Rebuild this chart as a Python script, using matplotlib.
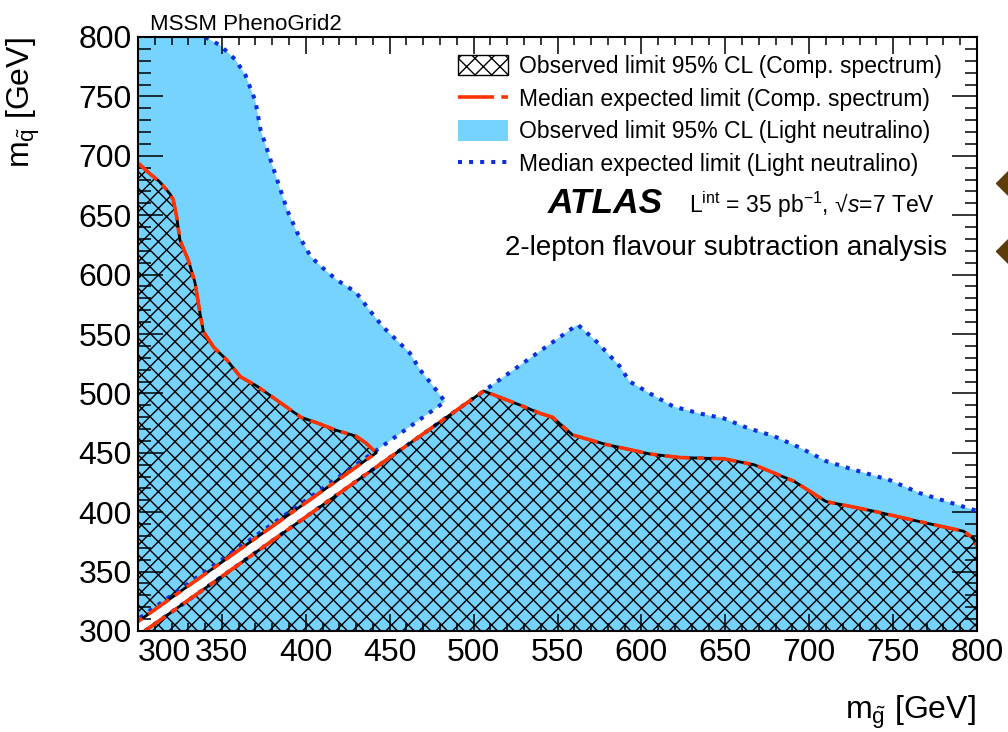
import numpy as np
import matplotlib
matplotlib.use("Agg")
import matplotlib.pyplot as plt
from matplotlib.ticker import MultipleLocator
from matplotlib.patches import Patch
from matplotlib.lines import Line2D

plt.rcParams['font.family'] = ['Liberation Sans', 'DejaVu Sans']
plt.rcParams['mathtext.fontset'] = 'custom'
plt.rcParams['mathtext.rm'] = 'Liberation Sans'
plt.rcParams['mathtext.it'] = 'Liberation Sans:italic'
plt.rcParams['mathtext.bf'] = 'Liberation Sans:bold'
plt.rcParams['hatch.linewidth'] = 1.0

# --- contours (GeV) ---
# upper-left region (squark heavier than gluino)
ul_obs_x = [300, 307, 313, 319, 321, 323, 325, 330, 334, 337, 339, 345, 353, 361, 371, 383, 397, 407, 418, 430, 436, 442]
ul_obs_y = [694, 685, 678, 668, 663, 649, 629, 612, 593, 567, 552, 539, 528, 514, 506, 494, 480, 475, 469, 464, 458, 450]
ul_ln_x = [340, 349, 358, 364, 370, 373, 377, 381, 385, 389, 395, 403, 409, 418, 430, 438, 446, 454, 462, 468, 476, 483]
ul_ln_y = [800, 793, 781, 768, 746, 722, 705, 688, 671, 654, 635, 615, 607, 596, 585, 570, 556, 545, 534, 520, 506, 493]

# lower-right region (gluino heavier than squark)
lr_obs_x = [506, 528, 540, 547, 559, 579, 605, 623, 649, 667, 691, 710, 738, 766, 792, 798, 800]
lr_obs_y = [502, 490, 483, 480, 465, 457, 449, 446, 445, 440, 426, 409, 401, 392, 384, 378, 371]
lr_ln_x = [562, 573, 579, 587, 593, 605, 619, 635, 649, 663, 679, 695, 710, 726, 748, 766, 782, 798, 800]
lr_ln_y = [558, 544, 535, 523, 510, 500, 489, 483, 479, 471, 464, 454, 443, 436, 427, 416, 409, 402, 401]

# where the contours meet the mass diagonal
diag_ul_ln = 310   # y at x=300
diag_ul_obs = 308  # y at x=300
diag_lr = 304      # x at y=300

legend_labels = [
    "Observed limit 95% CL (Comp. spectrum)",
    "Median expected limit (Comp. spectrum)",
    "Observed limit 95% CL (Light neutralino)",
    "Median expected limit (Light neutralino)",
]

LIGHT = '#75d3fd'
RED = '#ff3300'
BLUE = '#0f2fdc'
RED_DASH = (0, (7, 2, 2, 2))
BLUE_DOT = (0, (1, 1.75))

fig = plt.figure(figsize=(10.08, 7.32), dpi=100)
ax = fig.add_axes([138 / 1008, 101 / 732, 839 / 1008, 594 / 732])

# light neutralino observed regions
ax.fill([300, 300] + ul_ln_x, [diag_ul_ln, 800] + ul_ln_y, color=LIGHT, lw=0, zorder=1)
ax.fill([diag_lr, 562] + lr_ln_x[1:] + [800], [300, 558] + lr_ln_y[1:] + [300],
        color=LIGHT, lw=0, zorder=1)

# compressed spectrum observed regions (hatched)
ax.fill([300, 300] + ul_obs_x, [diag_ul_obs, 694] + ul_obs_y, facecolor=LIGHT,
        edgecolor='black', hatch='xx', lw=0, zorder=1.1)
ax.fill([diag_lr] + lr_obs_x + [800], [300] + lr_obs_y + [300], facecolor=LIGHT,
        edgecolor='black', hatch='xx', lw=0, zorder=1.1)

# expected, light neutralino (dotted)
dot = dict(color=BLUE, lw=2.9, linestyle=BLUE_DOT, zorder=2)
ax.plot(ul_ln_x + [300], ul_ln_y + [diag_ul_ln], **dot)
ax.plot([diag_lr] + lr_ln_x, [300] + lr_ln_y, **dot)

# observed (black) and expected (red dashed), compressed spectrum
for xs, ys in [(ul_obs_x + [300], ul_obs_y + [diag_ul_obs]),
               ([diag_lr] + lr_obs_x, [300] + lr_obs_y)]:
    ax.plot(xs, ys, color='black', lw=2.0, zorder=2.2)
    ax.plot(xs, ys, color=RED, lw=2.6, linestyle=RED_DASH, zorder=2.3)

ax.set_xlim(300, 800)
ax.set_ylim(300, 800)
ax.set_xticks(np.arange(300, 801, 50))
ax.set_yticks(np.arange(300, 801, 50))
ax.xaxis.set_minor_locator(MultipleLocator(10))
ax.yaxis.set_minor_locator(MultipleLocator(10))
ax.tick_params(which='both', direction='in', top=True, right=True, labelsize=23)
ax.tick_params(axis='x', which='major', length=12, width=1.1, pad=5)
ax.tick_params(axis='x', which='minor', length=6, width=1.1)
ax.tick_params(axis='y', which='major', length=18, width=1.1, pad=4.5)
ax.tick_params(axis='y', which='minor', length=9, width=1.1)
ax.get_xticklabels()[0].set_horizontalalignment('left')
for s in ax.spines.values():
    s.set_linewidth(1.5)

ax.set_xlabel(r'm$_{\tilde{\mathrm{g}}}$ [GeV]', fontsize=23, loc='right')
ax.xaxis.set_label_coords(0.998, -0.105)
ax.set_ylabel(r'm$_{\tilde{\mathrm{q}}}$ [GeV]', fontsize=23, loc='top')
ax.yaxis.set_label_coords(-0.115, 1.0)

handles = [
    Patch(facecolor='white', edgecolor='black', hatch='xx', lw=1),
    Line2D([], [], color=RED, lw=2.6, linestyle=(0, (10, 2, 2, 2))),
    Patch(facecolor=LIGHT, edgecolor=LIGHT, lw=0),
    Line2D([], [], color=BLUE, lw=2.9, linestyle=BLUE_DOT),
]
ax.legend(handles, legend_labels, loc='upper left', bbox_to_anchor=(0.3814, 0.97),
          frameon=False, fontsize=16.5, borderpad=0, borderaxespad=0,
          handlelength=2.2, handleheight=1.0, handletextpad=0.45, labelspacing=0.42)

ax.text(0.4887, 0.7037, 'ATLAS', transform=ax.transAxes, fontsize=25.5,
        fontweight='bold', fontstyle='italic', va='baseline', ha='left')
ax.text(0.95, 0.7037, r'L$^{\mathrm{int}}$ = 35 pb$^{\mathrm{-1}}$, √$s$=7 TeV',
        transform=ax.transAxes, fontsize=16.5, va='baseline', ha='right')
ax.text(0.9643, 0.633, '2-lepton flavour subtraction analysis', transform=ax.transAxes,
        fontsize=20, va='baseline', ha='right')

fig.text(150 / 1008, 0.959, 'MSSM PhenoGrid2', fontsize=16, va='baseline', ha='left')

# cut-off bullet marks at the right edge of the slide
bullet_y = [0.75, 0.657]
for by in bullet_y:
    fig.add_artist(Line2D([1.0], [by], transform=fig.transFigure, marker='D', ms=12,
                          color='#5c3c08', clip_on=False))

fig.savefig('out.png', dpi=100)
